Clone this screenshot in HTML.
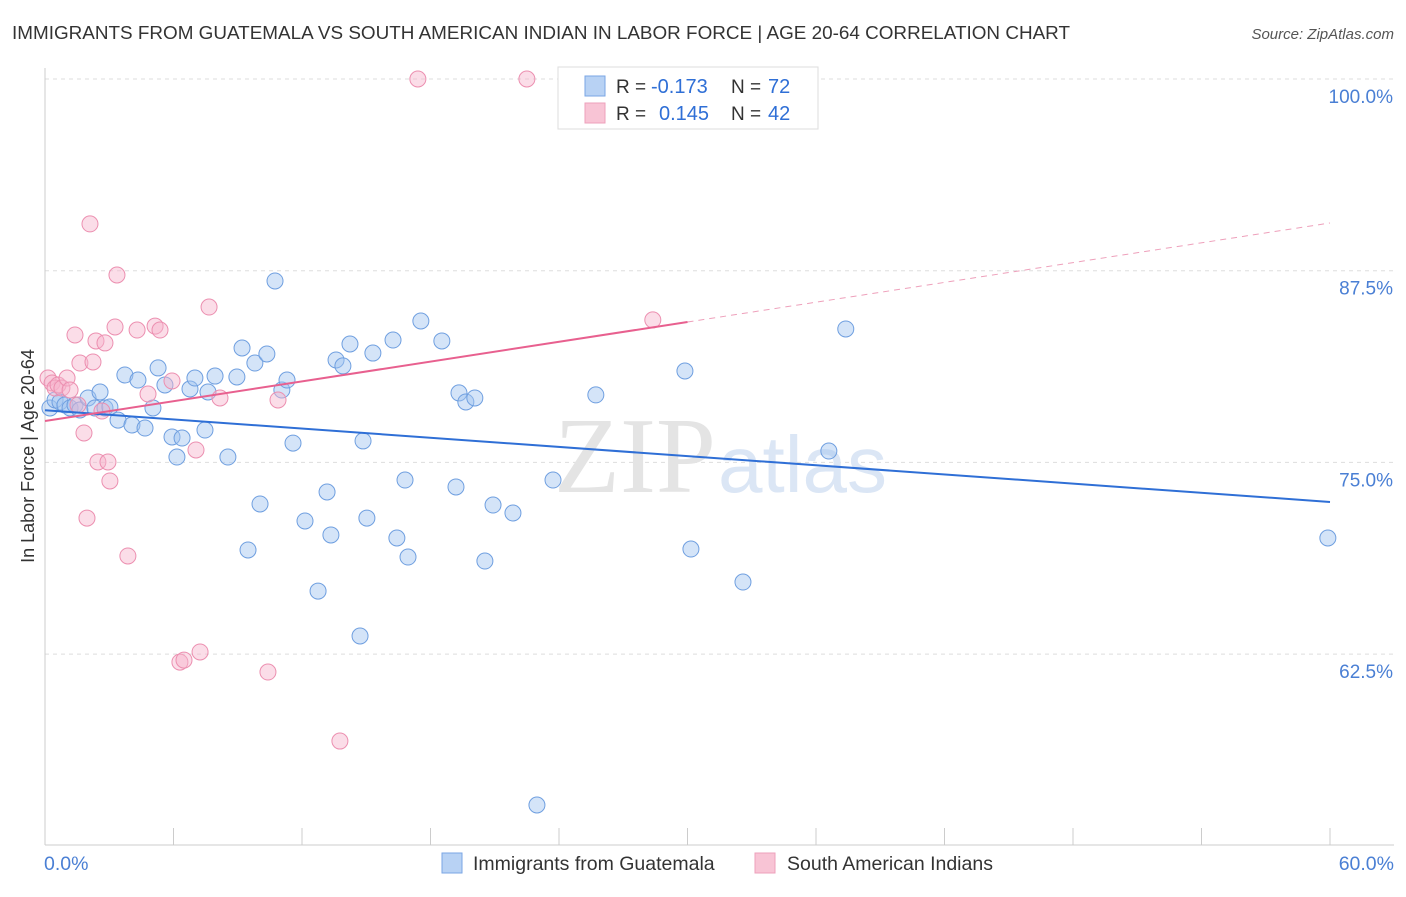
<!DOCTYPE html>
<html><head><meta charset="utf-8"><style>
body{margin:0;background:#fff;font-family:"Liberation Sans",sans-serif;}
</style></head><body>
<svg width="1406" height="892" viewBox="0 0 1406 892" xmlns="http://www.w3.org/2000/svg">
<text x="12" y="39" font-size="18" fill="#333" textLength="1058" lengthAdjust="spacingAndGlyphs">IMMIGRANTS FROM GUATEMALA VS SOUTH AMERICAN INDIAN IN LABOR FORCE | AGE 20-64 CORRELATION CHART</text>
<text x="1394" y="39" font-size="15" fill="#555" font-style="italic" text-anchor="end">Source: ZipAtlas.com</text>
<g id="grid"></g>
<line x1="45" y1="68" x2="45" y2="845" stroke="#ccc"/>
<line x1="45" y1="845" x2="1394" y2="845" stroke="#ccc"/>
<text x="716" y="492" font-size="108" fill="#e4e4e4" text-anchor="end" font-family="Liberation Serif">ZIP</text>
<text x="718" y="492" font-size="80" fill="#dbe6f5">atlas</text>
<text x="44" y="870" font-size="19.5" fill="#4a7fd4">0.0%</text>
<text x="1394" y="870" font-size="19.5" fill="#4a7fd4" text-anchor="end">60.0%</text>
<text transform="translate(34,456) rotate(-90)" font-size="18" fill="#333" text-anchor="middle">In Labor Force | Age 20-64</text>
<g id="marks"></g>
<g>
<rect x="558" y="67" width="260" height="62" fill="#fff" stroke="#ddd"/>
<rect x="585" y="76" width="20" height="20" fill="#b8d2f4" stroke="#7aa6e4"/>
<rect x="585" y="103" width="20" height="20" fill="#f8c4d5" stroke="#eea0bb"/>
<text x="616" y="93" font-size="19" fill="#333">R =</text>
<text x="651" y="93" font-size="20" fill="#2f6fd6">-0.173</text>
<text x="731" y="93" font-size="19" fill="#333">N =</text>
<text x="768" y="93" font-size="20" fill="#2f6fd6">72</text>
<text x="616" y="120" font-size="19" fill="#333">R =</text>
<text x="659" y="120" font-size="20" fill="#2f6fd6">0.145</text>
<text x="731" y="120" font-size="19" fill="#333">N =</text>
<text x="768" y="120" font-size="20" fill="#2f6fd6">42</text>
</g>
<g>
<rect x="442" y="853" width="20" height="20" fill="#b8d2f4" stroke="#7aa6e4"/>
<text x="473" y="870" font-size="19.5" fill="#333">Immigrants from Guatemala</text>
<rect x="755" y="853" width="20" height="20" fill="#f8c4d5" stroke="#eea0bb"/>
<text x="787" y="870" font-size="19.5" fill="#333">South American Indians</text>
</g>
</svg>
<script>
const yTicks=[100,87.5,75,62.5];
const yTickLabels=["100.0%","87.5%","75.0%","62.5%"];
const xTicks=[0,6,12,18,24,30,36,42,48,54,60];
const blueX=[0.23,0.47,0.70,0.93,1.17,1.40,1.63,2.01,2.33,2.57,2.80,3.03,3.41,3.73,4.06,4.34,4.67,5.04,5.28,5.60,5.93,6.16,6.40,6.77,7.00,7.47,7.61,7.94,8.54,8.96,9.20,9.48,9.80,10.04,10.36,10.74,11.06,11.30,11.58,12.14,12.75,13.17,13.35,13.59,13.91,14.24,14.71,14.85,15.03,15.31,16.25,16.43,16.81,16.95,17.55,18.53,19.19,19.33,19.65,20.07,20.54,20.92,21.85,22.97,23.72,25.72,29.88,30.16,32.59,33.71,36.60,37.39,59.90];
const blueY=[78.55,79.07,78.94,78.74,78.55,78.74,78.42,79.20,78.55,79.59,78.55,78.61,77.76,80.70,77.44,80.37,77.24,78.55,81.16,80.05,76.66,75.35,76.59,79.79,80.50,77.11,79.59,80.63,75.35,80.57,82.46,69.29,81.48,72.29,82.07,86.83,79.72,80.37,76.26,71.18,66.61,73.07,70.27,81.68,81.29,82.72,63.68,76.40,71.37,82.13,82.98,70.07,73.85,68.83,84.22,82.92,73.40,79.53,78.94,79.20,68.57,72.22,71.70,52.66,73.85,79.40,80.96,69.35,67.20,100,75.74,83.70,70.07];
const pinkX=[0.14,0.33,0.47,0.61,0.79,1.03,1.17,1.40,1.54,1.63,1.82,1.96,2.10,2.24,2.38,2.47,2.66,2.80,2.94,3.03,3.27,3.36,3.87,4.30,4.81,5.14,5.37,5.93,6.30,6.49,7.05,7.24,7.66,8.17,10.41,10.88,13.77,17.41,22.50,28.38];
const pinkY=[80.50,80.18,79.85,80.05,79.85,80.50,79.72,83.31,78.74,81.48,76.92,71.37,90.55,81.55,82.92,75.03,78.35,82.79,75.03,73.79,83.83,87.22,68.90,83.63,79.46,83.89,83.63,80.31,61.98,62.11,75.81,62.64,85.13,79.20,61.33,79.07,56.83,100,100,84.29];
const blueTrend=[78.4,72.42];
const pinkTrend=[77.70,90.61];
const pinkSolidEnd=30;
const NS="http://www.w3.org/2000/svg";
const xs=v=>45+v/60*1285;
const ys=v=>79+(100-v)*15.336;
function mk(t,a,p){const e=document.createElementNS(NS,t);for(const k in a)e.setAttribute(k,a[k]);p.appendChild(e);return e;}
const grid=document.getElementById('grid'),marks=document.getElementById('marks');
yTicks.forEach((t,i)=>{
 const l=mk('line',{x1:45,x2:1394,y1:ys(t),y2:ys(t),stroke:'#ddd','stroke-dasharray':'4,4'},grid);
 
 
 const tx=mk('text',{x:1393,y:ys(t)+24,'font-size':19,fill:'#4a7fd4','text-anchor':'end'},grid);
 tx.textContent=yTickLabels[i];
 
 
});
xTicks.forEach(t=>{
 const l=mk('line',{x1:xs(t),x2:xs(t),y1:828,y2:845,stroke:'#ccc'},grid);
 
 
});
blueX.forEach((x,i)=>{
 const c=mk('circle',{cx:xs(x),cy:ys(blueY[i]),r:8,fill:'rgba(160,195,240,0.45)',stroke:'#6f9fe0','stroke-width':1},marks);
 
 
});
pinkX.forEach((x,i)=>{
 const c=mk('circle',{cx:xs(x),cy:ys(pinkY[i]),r:8,fill:'rgba(246,180,204,0.45)',stroke:'#ec8fb0','stroke-width':1},marks);
 
 
});
const bl=mk('line',{x1:xs(0),y1:ys(blueTrend[0]),x2:xs(60),y2:ys(blueTrend[1]),stroke:'#2f6fd6','stroke-width':2},marks);


const pm=pinkTrend[0]+(pinkTrend[1]-pinkTrend[0])*pinkSolidEnd/60;
const pl=mk('line',{x1:xs(0),y1:ys(pinkTrend[0]),x2:xs(pinkSolidEnd),y2:ys(pm),stroke:'#e8608f','stroke-width':2},marks);


const pd=mk('line',{x1:xs(pinkSolidEnd),y1:ys(pm),x2:xs(60),y2:ys(pinkTrend[1]),stroke:'#eea0bb','stroke-width':1,'stroke-dasharray':'6,5'},marks);


</script>
</body></html>
